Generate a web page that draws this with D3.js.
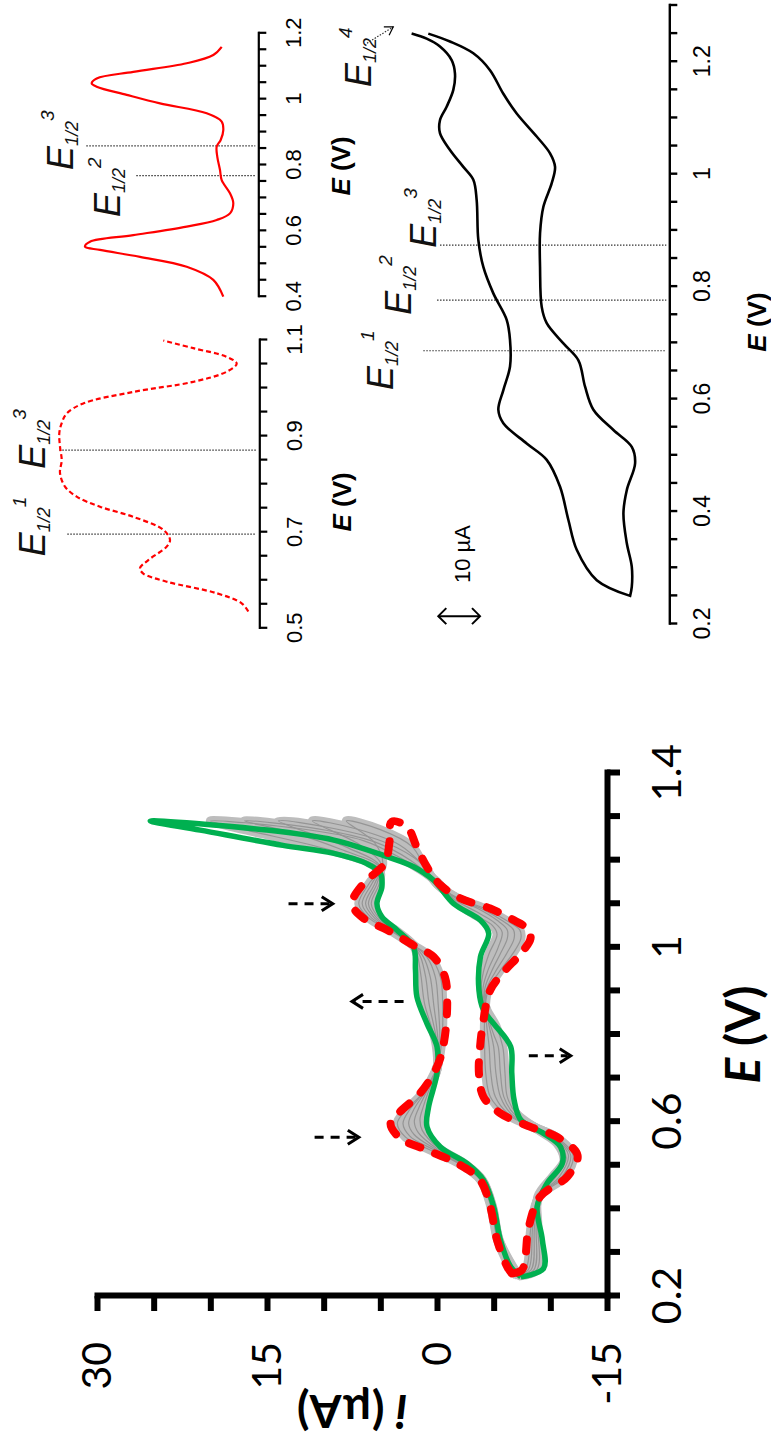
<!DOCTYPE html>
<html>
<head>
<meta charset="utf-8">
<style>
  body { margin: 0; background: #fff; }
  svg { display: block; }
</style>
</head>
<body>
<svg width="771" height="1446"></svg>
<script src="https://d3js.org/d3.v7.min.js"></script>
<script>

  // ---------- main CV figure (E in V, i in µA) ----------
  var mainETicks = [0.2, 0.3, 0.4, 0.5, 0.6, 0.7, 0.8, 0.9, 1.0, 1.1, 1.2, 1.3, 1.4];
  var mainELabels = [0.2, 0.6, 1.0, 1.4];
  var mainITicks = [-15, -10, -5, 0, 5, 10, 15, 20, 25, 30];
  var mainILabels = [-15, 0, 15, 30];

  // first cycle (red dashed): forward branch then reverse branch
  var firstFwd = [[0.252, -6.6], [0.267, -6.2], [0.328, -5.3], [0.405, -4.7], [0.466, -3.8], [0.504, -1.8],
    [0.535, 0.9], [0.562, 3.25], [0.596, 4.1], [0.623, 3.25], [0.665, 1.5], [0.726, 0], [0.78, -0.6],
    [0.871, -0.9], [0.932, -0.7], [0.978, 0.3], [1.005, 2.1], [1.04, 4.4], [1.067, 6.5], [1.10, 7.5],
    [1.146, 6.5], [1.193, 4.6], [1.24, 4.2], [1.288, 4.0]];
  var firstRev = [[1.277, 2.65], [1.231, 1.8], [1.185, 0.9], [1.143, -0.3], [1.112, -2.1], [1.089, -4.7],
    [1.062, -6.8], [1.04, -8.1], [1.02, -8.25], [0.986, -7.4], [0.944, -5.9], [0.902, -4.7], [0.833, -4.1],
    [0.772, -3.8], [0.711, -3.7], [0.657, -4.1], [0.619, -5.6], [0.588, -8.25], [0.565, -10.6], [0.523, -12.4],
    [0.474, -11.5], [0.428, -9.1], [0.359, -8.1], [0.26, -7.5]];

  // last cycle (green)
  var lastFwd = [[0.244, -7.4], [0.267, -6.5], [0.328, -5.6], [0.405, -5.0], [0.466, -4.1], [0.504, -2.65],
    [0.542, -0.3], [0.588, 0.88], [0.634, 0.74], [0.711, 0], [0.772, 0], [0.825, 0.88], [0.886, 1.77],
    [0.948, 1.9], [1.001, 2.07], [1.04, 3.54], [1.07, 4.86], [1.10, 5.3], [1.139, 4.86], [1.17, 5.0],
    [1.192, 6.2], [1.216, 9.2], [1.234, 13.6], [1.269, 20.9], [1.29, 25.3]];
  var lastRev = [[1.269, 15], [1.246, 9.1], [1.208, 4.4], [1.185, 2.07], [1.154, 0.3], [1.10, -1.47],
    [1.062, -3.83], [1.032, -4.56], [0.978, -3.83], [0.902, -3.7], [0.856, -4.1], [0.825, -5.0], [0.772, -6.5],
    [0.711, -6.6], [0.65, -6.8], [0.604, -7.4], [0.573, -9.4], [0.542, -10.9], [0.504, -11.05], [0.458, -9.7],
    [0.405, -8.84], [0.328, -9.3], [0.263, -9.4]];

  // intermediate cycles (gray band), from early to late
  var midCycleA = [[0.25, -6.7], [0.328, -5.35], [0.405, -4.75], [0.466, -3.85], [0.504, -1.95], [0.535, 0.6],
    [0.565, 2.8], [0.596, 3.5], [0.625, 2.8], [0.665, 1.3], [0.726, 0], [0.78, -0.4], [0.871, -0.5], [0.932, -0.3],
    [0.978, 0.6], [1.005, 2.1], [1.04, 4.2], [1.067, 6.0], [1.10, 6.9], [1.146, 6.0], [1.19, 4.8], [1.24, 5.5],
    [1.29, 8], [1.27, 5], [1.231, 2.2], [1.185, 1.1], [1.143, -0.1], [1.112, -1.9], [1.089, -4.2], [1.062, -6.1],
    [1.04, -7.3], [1.02, -7.4], [0.986, -6.7], [0.944, -5.5], [0.902, -4.5], [0.833, -4.2], [0.772, -4.2],
    [0.711, -4.3], [0.657, -4.7], [0.619, -6.0], [0.588, -8.4], [0.565, -10.5], [0.523, -12.0], [0.474, -11.3],
    [0.428, -9.0], [0.359, -8.3], [0.26, -7.8], [0.25, -6.7]];
  var midCycleB = [[0.249, -6.85], [0.328, -5.4], [0.405, -4.8], [0.466, -3.9], [0.504, -2.05], [0.537, 0.4],
    [0.567, 2.4], [0.596, 3.0], [0.628, 2.4], [0.668, 1.15], [0.723, 0], [0.78, -0.25], [0.871, -0.1],
    [0.932, 0.15], [0.978, 0.9], [1.005, 2.1], [1.04, 4.05], [1.067, 5.75], [1.10, 6.6], [1.146, 5.75],
    [1.188, 4.9], [1.235, 6.8], [1.29, 11], [1.271, 7], [1.235, 3.3], [1.19, 1.3], [1.146, 0], [1.112, -1.8],
    [1.089, -3.9], [1.062, -5.7], [1.04, -6.75], [1.02, -6.8], [0.986, -6.15], [0.944, -5.15], [0.902, -4.35],
    [0.833, -4.35], [0.772, -4.6], [0.711, -4.75], [0.657, -5.15], [0.619, -6.25], [0.588, -8.5], [0.565, -10.4],
    [0.523, -11.8], [0.474, -11.05], [0.428, -9.0], [0.359, -8.45], [0.26, -8.05], [0.249, -6.85]];
  var midCycleC = [[0.248, -7.0], [0.328, -5.45], [0.405, -4.85], [0.466, -3.95], [0.504, -2.2], [0.538, 0.2],
    [0.57, 2.0], [0.596, 2.5], [0.63, 2.0], [0.67, 1.0], [0.72, 0], [0.78, -0.1], [0.871, 0.3], [0.932, 0.6],
    [0.978, 1.2], [1.005, 2.1], [1.04, 3.9], [1.067, 5.5], [1.10, 6.3], [1.146, 5.5], [1.185, 5.0], [1.23, 8],
    [1.29, 14], [1.272, 9], [1.24, 4.5], [1.195, 1.5], [1.15, 0.1], [1.112, -1.7], [1.089, -3.6], [1.062, -5.3],
    [1.04, -6.2], [1.02, -6.2], [0.986, -5.6], [0.944, -4.8], [0.902, -4.2], [0.833, -4.5], [0.772, -5.0],
    [0.711, -5.2], [0.657, -5.6], [0.619, -6.5], [0.588, -8.6], [0.565, -10.3], [0.523, -11.6], [0.474, -10.8],
    [0.428, -9.0], [0.359, -8.6], [0.26, -8.3], [0.248, -7.0]];
  var midCycleD = [[0.247, -7.1], [0.328, -5.48], [0.405, -4.88], [0.466, -3.98], [0.504, -2.3], [0.539, 0.05],
    [0.575, 1.65], [0.6, 2.0], [0.632, 1.6], [0.675, 0.8], [0.72, 0], [0.78, 0], [0.871, 0.7], [0.932, 1.0],
    [0.978, 1.45], [1.005, 2.1], [1.04, 3.8], [1.067, 5.3], [1.10, 6.05], [1.146, 5.3], [1.183, 5.05],
    [1.225, 8.5], [1.265, 13], [1.29, 17], [1.272, 10.5], [1.242, 5.5], [1.2, 2.35], [1.152, 0.15],
    [1.108, -1.65], [1.082, -3.45], [1.056, -5.1], [1.035, -5.75], [1.0, -5.4], [0.944, -4.45], [0.902, -4.05],
    [0.845, -4.45], [0.80, -5.0], [0.772, -5.4], [0.711, -5.6], [0.657, -5.9], [0.619, -6.75], [0.584, -8.8],
    [0.557, -10.45], [0.517, -11.4], [0.474, -10.5], [0.428, -8.95], [0.359, -8.75], [0.26, -8.55], [0.247, -7.1]];
  var midCycleE = [[0.246, -7.2], [0.328, -5.5], [0.405, -4.9], [0.466, -4.0], [0.504, -2.4], [0.54, -0.1],
    [0.58, 1.3], [0.605, 1.5], [0.635, 1.2], [0.68, 0.6], [0.72, 0], [0.78, 0.1], [0.871, 1.1], [0.932, 1.4],
    [0.978, 1.7], [1.005, 2.1], [1.04, 3.7], [1.067, 5.1], [1.10, 5.8], [1.146, 5.1], [1.18, 5.1], [1.22, 9],
    [1.27, 17], [1.29, 20], [1.272, 12], [1.245, 6.5], [1.205, 3.2], [1.155, 0.2], [1.105, -1.6], [1.075, -3.3],
    [1.05, -4.9], [1.03, -5.3], [0.986, -4.6], [0.944, -4.1], [0.902, -3.9], [0.856, -4.4], [0.82, -5.2],
    [0.772, -5.8], [0.711, -6.0], [0.657, -6.2], [0.619, -7.0], [0.58, -9.0], [0.55, -10.6], [0.51, -11.2],
    [0.474, -10.2], [0.428, -8.9], [0.359, -8.9], [0.26, -8.8], [0.246, -7.2]];

  // dashed arrows: E, start current, end current (head)
  var trendArrows = [[1.10, 13.1, 9.2], [0.876, 2.95, 7.5], [0.564, 10.8, 6.9], [0.751, -8.1, -11.8]];

  // ---------- small DPV panels (a.u.) ----------
  var dpvSolidTicks = [0.4, 0.45, 0.5, 0.55, 0.6, 0.65, 0.7, 0.75, 0.8, 0.85, 0.9, 0.95, 1.0, 1.05, 1.1, 1.15, 1.2];
  var dpvSolidLabels = [0.4, 0.6, 0.8, 1.0, 1.2];
  var dpvSolid = [[0.40, 3.5], [0.451, 4.5], [0.491, 7.16], [0.521, 11.83], [0.542, 15.83], [0.552, 17.33],
    [0.567, 16.83], [0.587, 12.5], [0.613, 7.16], [0.633, 4.16], [0.653, 2.83], [0.684, 2.5], [0.714, 2.83],
    [0.754, 3.66], [0.785, 3.83], [0.825, 4.1], [0.856, 4.16], [0.876, 3.76], [0.906, 3.5], [0.932, 3.66],
    [0.957, 5.16], [0.987, 9.83], [1.013, 13.16], [1.038, 16.16], [1.048, 16.66], [1.063, 16.16], [1.083, 12.5],
    [1.109, 7.16], [1.134, 4.5], [1.159, 3.66]];
  var dpvSolidHalf = [[0.858, 17.2, "3"], [0.768, 12.2, "2"]];

  var dpvDashTicks = [0.5, 0.55, 0.6, 0.65, 0.7, 0.75, 0.8, 0.85, 0.9, 0.95, 1.0, 1.05, 1.1];
  var dpvDashLabels = [0.5, 0.7, 0.9, 1.1];
  var dpvDash = [[0.535, 1.1], [0.552, 1.76], [0.573, 4.26], [0.597, 9.26], [0.614, 11.6], [0.625, 11.93],
    [0.642, 11.1], [0.670, 9.26], [0.684, 8.93], [0.705, 9.6], [0.732, 12.6], [0.753, 15.93], [0.774, 18.26],
    [0.795, 19.43], [0.823, 19.93], [0.850, 19.76], [0.878, 19.93], [0.906, 20.0], [0.927, 19.76], [0.947, 19.26],
    [0.968, 17.6], [0.992, 12.6], [1.013, 6.6], [1.034, 3.26], [1.051, 2.26], [1.065, 3.26], [1.083, 6.6],
    [1.099, 9.6]];
  var dpvDashHalf = [[0.871, 20.0, "3"], [0.696, 19.2, "1"]];

  // ---------- single CV panel (µA, arbitrary offset) ----------
  var cvTicks = [0.2, 0.25, 0.3, 0.35, 0.4, 0.45, 0.5, 0.55, 0.6, 0.65, 0.7, 0.75, 0.8, 0.85, 0.9, 0.95,
    1.0, 1.05, 1.1, 1.15, 1.2, 1.25, 1.3];
  var cvLabels = [0.2, 0.4, 0.6, 0.8, 1.0, 1.2];
  var cvAnodic = [[0.25, -7.2], [0.278, 0.8], [0.332, 5.6], [0.385, 7.6], [0.444, 9.6], [0.492, 12.8],
    [0.521, 17.6], [0.557, 23.2], [0.581, 24.4], [0.616, 23.2], [0.658, 21.6], [0.705, 21.6], [0.741, 22.4],
    [0.788, 25.6], [0.835, 28.0], [0.883, 29.2], [0.954, 29.6], [0.99, 30.4], [1.013, 32.8], [1.043, 36.0],
    [1.073, 38.4], [1.096, 38.4], [1.12, 36.8], [1.15, 35.2], [1.179, 34.8], [1.203, 35.6], [1.227, 38.4],
    [1.241, 41.6], [1.25, 45.2]];
  var cvCathodic = [[1.25, 41.2], [1.236, 36.0], [1.215, 30.4], [1.185, 26.4], [1.143, 23.2], [1.108, 20.0],
    [1.067, 15.2], [1.037, 12.0], [1.013, 10.8], [0.984, 11.6], [0.942, 13.6], [0.895, 14.4], [0.835, 14.4],
    [0.764, 14.0], [0.735, 12.8], [0.699, 8.8], [0.669, 5.2], [0.622, 3.6], [0.581, 1.6], [0.545, -3.2],
    [0.515, -7.6], [0.486, -8.4], [0.438, -6.4], [0.397, -5.6], [0.344, -6.4], [0.302, -7.6], [0.266, -7.6],
    [0.25, -7.2]];
  var cvHalf = [[0.686, 42.4, "1"], [0.776, 39.1, "2"], [0.874, 38.4, "3"]];

  var svg = d3.select("svg");
  var latin = "'Liberation Sans', Arial, sans-serif";
  var calib = "Lato, 'Open Sans', sans-serif";

  function label(d) { return String(+d.toFixed(2)); }

  // every panel is drawn unrotated, then turned a quarter turn
  function panel(ty) {
    return svg.append("g").attr("transform", "translate(0," + ty + ") rotate(-90)");
  }

  function styleAxis(a, width, size, family) {
    a.attr("font-size", null).attr("font-family", null);
    a.select(".domain").attr("stroke-width", width).attr("stroke-linecap", "square");
    a.selectAll(".tick line").attr("stroke-width", width);
    a.selectAll(".tick text").attr("font-size", size).attr("font-family", family).attr("fill", "#000");
  }

  function smooth(x, y) {
    return d3.line().x(function (d) { return x(d[0]); }).y(function (d) { return y(d[1]); })
      .curve(d3.curveCatmullRom.alpha(0.5));
  }

  function halfLabel(g, px, py, n) {
    var t = g.append("text").attr("x", px).attr("y", py)
      .attr("font-family", latin).attr("font-style", "italic").attr("fill", "#111");
    t.append("tspan").attr("font-size", 36).text("E");
    t.append("tspan").attr("font-size", 18).attr("dy", 5).text("1/2");
    t.append("tspan").attr("font-size", 19).attr("dy", -24).text(n);
  }

  function eTitle(g, px, py, size, family) {
    var t = g.append("text").attr("x", px).attr("y", py).attr("text-anchor", "middle")
      .attr("font-family", family).attr("font-weight", "bold").attr("font-size", size).attr("fill", "#000");
    t.append("tspan").attr("font-style", "italic").text("E");
    t.append("tspan").text(" (V)");
  }

  function dotted(g, x1, y1, x2, y2) {
    g.append("line").attr("x1", x1).attr("y1", y1).attr("x2", x2).attr("y2", y2)
      .attr("stroke", "#333").attr("stroke-width", 1.2).attr("stroke-dasharray", "1.5 1.5");
  }

  function head(g, x1, y1, x2, y2, len, half, width) {
    var dx = x2 - x1, dy = y2 - y1, L = Math.sqrt(dx * dx + dy * dy);
    var ux = dx / L, uy = dy / L;
    g.append("path")
      .attr("d", "M" + (x2 - ux * len - uy * half) + "," + (y2 - uy * len + ux * half) +
        "L" + x2 + "," + y2 +
        "L" + (x2 - ux * len + uy * half) + "," + (y2 - uy * len - ux * half))
      .attr("fill", "none").attr("stroke", "#000").attr("stroke-width", width);
  }

  // ================= main chart =================
  var mg = panel(1296);
  var mx = d3.scaleLinear().domain([0.2, 1.4]).range([0, 523]);
  var my = d3.scaleLinear().domain([-15, 30]).range([607, 97]);
  var mline = smooth(mx, my);
  var gray = [midCycleA, midCycleB, midCycleC, midCycleD, midCycleE];

  gray.forEach(function (c) {
    mg.append("path").datum(c).attr("d", mline).attr("fill", "none")
      .attr("stroke", "#bdbdbd").attr("stroke-width", 9).attr("stroke-linejoin", "round");
  });
  gray.forEach(function (c) {
    mg.append("path").datum(c).attr("d", mline).attr("fill", "none")
      .attr("stroke", "#959595").attr("stroke-width", 1.2);
  });

  mg.append("path").datum(lastFwd.concat(lastRev, [lastFwd[0]])).attr("d", mline)
    .attr("fill", "none").attr("stroke", "#00b050").attr("stroke-width", 5.5).attr("stroke-linejoin", "round");

  mg.append("path").datum(firstFwd.concat(firstRev, [firstFwd[0]])).attr("d", mline)
    .attr("fill", "none").attr("stroke", "#ff0000").attr("stroke-width", 8)
    .attr("stroke-dasharray", "12 16").attr("stroke-linecap", "round");

  trendArrows.forEach(function (a) {
    var x0 = mx(a[0]), y0 = my(a[1]), y1 = my(a[2]);
    var dir = y1 > y0 ? 1 : -1;
    mg.append("line").attr("x1", x0).attr("y1", y0).attr("x2", x0).attr("y2", y1 - dir * 3)
      .attr("stroke", "#000").attr("stroke-width", 3).attr("stroke-dasharray", "9 7");
    head(mg, x0, y0, x0, y1, 11, 7, 3);
  });

  var mxAxis = mg.append("g").attr("transform", "translate(0," + my(-15) + ")")
    .call(d3.axisBottom(mx).tickValues(mainETicks).tickSize(13).tickSizeOuter(0).tickPadding(32)
      .tickFormat(function (d) { return mainELabels.indexOf(d) >= 0 ? label(d) : ""; }));
  styleAxis(mxAxis, 6, 41, calib);

  var myAxis = mg.append("g")
    .call(d3.axisLeft(my).tickValues(mainITicks).tickSize(15).tickSizeOuter(0).tickPadding(31)
      .tickFormat(function (d) { return mainILabels.indexOf(d) >= 0 ? String(d) : ""; }));
  styleAxis(myAxis, 6, 41, calib);

  eTitle(mg, mx(0.8), 760, 48, calib);

  var iTitle = mg.append("text")
    .attr("transform", "translate(-99," + my(7.5) + ") rotate(-90)")
    .attr("text-anchor", "middle").attr("font-family", calib).attr("font-weight", "bold")
    .attr("font-size", 46).attr("fill", "#000");
  iTitle.append("tspan").attr("font-style", "italic").text("i");
  iTitle.append("tspan").text(" (\u00b5A)");

  // ================= top right: solid DPV =================
  var sg = panel(296.7);
  var sx = d3.scaleLinear().domain([0.4, 1.2]).range([0, 263.4]);
  var sy = d3.scaleLinear().domain([0, 20]).range([258.3, 58.3]);
  dpvSolidHalf.forEach(function (h) { dotted(sg, sx(h[0]), sy(h[1]), sx(h[0]), sy(0) - 3); });
  sg.append("path").datum(dpvSolid).attr("d", smooth(sx, sy))
    .attr("fill", "none").attr("stroke", "#ff0000").attr("stroke-width", 2.2);
  var sAxis = sg.append("g").attr("transform", "translate(0," + sy(0) + ")")
    .call(d3.axisBottom(sx).tickValues(dpvSolidTicks).tickSize(8).tickSizeOuter(0).tickPadding(19)
      .tickFormat(function (d) { return dpvSolidLabels.indexOf(d) >= 0 ? label(d) : ""; }));
  styleAxis(sAxis, 2.2, 22, latin);
  eTitle(sg, sx(0.797), sy(0) + 92, 26, latin);
  halfLabel(sg, sx(0.785), sy(18.5), "3");
  halfLabel(sg, sx(0.642), sy(13.8), "2");

  // ================= top left: dashed DPV =================
  var dg = panel(628.3);
  var dx = d3.scaleLinear().domain([0.5, 1.1]).range([0, 288.3]);
  var dy = d3.scaleLinear().domain([0, 20]).range([259.3, 59.3]);
  dpvDashHalf.forEach(function (h) { dotted(dg, dx(h[0]), dy(h[1]), dx(h[0]), dy(0) - 3); });
  dg.append("path").datum(dpvDash).attr("d", smooth(dx, dy))
    .attr("fill", "none").attr("stroke", "#ff0000").attr("stroke-width", 2.2)
    .attr("stroke-dasharray", "5 3");
  var dAxis = dg.append("g").attr("transform", "translate(0," + dy(0) + ")")
    .call(d3.axisBottom(dx).tickValues(dpvDashTicks).tickSize(8).tickSizeOuter(0).tickPadding(19)
      .tickFormat(function (d) { return dpvDashLabels.indexOf(d) >= 0 ? label(d) : ""; }));
  styleAxis(dAxis, 2.2, 22, latin);
  eTitle(dg, dx(0.763), dy(0) + 92, 26, latin);
  halfLabel(dg, dx(0.650), dy(21.4), "1");
  halfLabel(dg, dx(0.832), dy(21.4), "3");

  // ================= bottom right of top: single CV =================
  var cg = panel(624);
  var cx = d3.scaleLinear().domain([0.2, 1.3]).range([0, 618.5]);
  var cy = d3.scaleLinear().domain([-16.6, 50]).range([669.3, 391.6]);
  cvHalf.forEach(function (h) { dotted(cg, cx(h[0]), cy(h[1]), cx(h[0]), cy(-16.6) - 3); });
  cg.append("path").datum(cvAnodic.slice().reverse().concat(cvCathodic.slice().reverse()))
    .attr("d", smooth(cx, cy)).attr("fill", "none").attr("stroke", "#000").attr("stroke-width", 2.6);
  var cAxis = cg.append("g").attr("transform", "translate(0," + cy(-16.6) + ")")
    .call(d3.axisBottom(cx).tickValues(cvTicks).tickSize(8).tickSizeOuter(0).tickPadding(16)
      .tickFormat(function (d) { return cvLabels.indexOf(d) >= 0 ? label(d) : ""; }));
  styleAxis(cAxis, 2.4, 23, latin);
  eTitle(cg, cx(0.737), cy(-16.6) + 97, 26, latin);
  halfLabel(cg, cx(0.616), cy(49.6), "1");
  halfLabel(cg, cx(0.750), cy(45.3), "2");
  halfLabel(cg, cx(0.869), cy(39.3), "3");
  halfLabel(cg, cx(1.155), cy(54.9), "4");

  // dotted pointer from E1/2^4 label
  dotted(cg, cx(1.233), cy(55.9), cx(1.262), cy(49.6));
  head(cg, cx(1.233), cy(55.9), cx(1.262), cy(49.6), 8, 5, 1.2);

  // 10 µA scale bar
  var barE = 0.214, barLo = 28.8, barHi = 38.8;
  cg.append("line").attr("x1", cx(barE)).attr("y1", cy(barLo)).attr("x2", cx(barE)).attr("y2", cy(barHi))
    .attr("stroke", "#000").attr("stroke-width", 2);
  head(cg, cx(barE), cy(barLo), cx(barE), cy(barHi), 8, 8, 2);
  head(cg, cx(barE), cy(barHi), cx(barE), cy(barLo), 8, 8, 2);
  cg.append("text").attr("x", cx(0.3245)).attr("y", cy(31.2)).attr("text-anchor", "middle")
    .attr("font-family", latin).attr("font-size", 22).attr("fill", "#000").text("10 \u00b5A");

</script>
</body>
</html>
